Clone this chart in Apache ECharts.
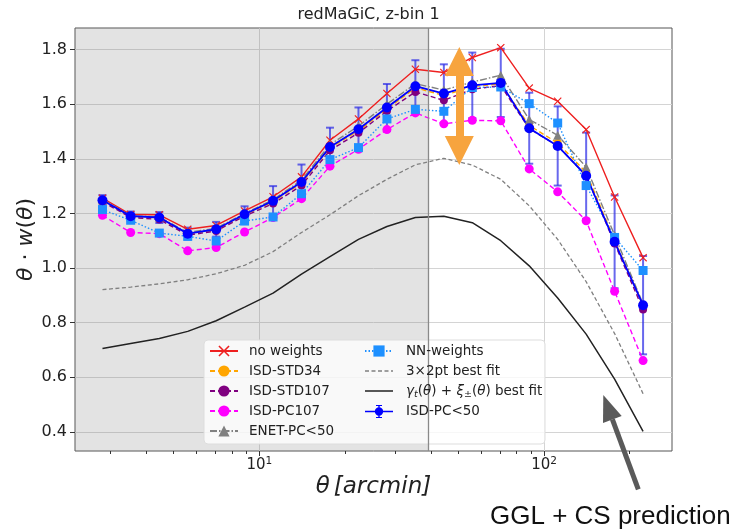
<!DOCTYPE html>
<html><head><meta charset="utf-8">
<script src="https://cdn.jsdelivr.net/npm/echarts@6/dist/echarts.min.js"></script>
<style>html,body{margin:0;padding:0;background:#fff}#c{width:737px;height:532px}</style>
</head><body><div id="c"></div>
<script>
// ---- data ----
const theta = [2.81, 3.53, 4.45, 5.60, 7.05, 8.87, 11.17, 14.06, 17.70, 22.29, 28.06, 35.32, 44.47, 55.98, 70.47, 88.72, 111.69, 140.61, 177.01, 222.84];
const noWeights = [1.256, 1.196, 1.195, 1.142, 1.156, 1.209, 1.261, 1.334, 1.468, 1.546, 1.639, 1.728, 1.716, 1.771, 1.807, 1.659, 1.611, 1.507, 1.260, 1.038];
const isdStd34  = [1.247, 1.188, 1.182, 1.124, 1.140, 1.194, 1.243, 1.311, 1.440, 1.503, 1.582, 1.660, 1.632, 1.664, 1.675, 1.522, 1.458, 1.350, 1.102, 0.862];
const isdStd107 = [1.243, 1.185, 1.178, 1.120, 1.136, 1.190, 1.236, 1.302, 1.431, 1.495, 1.575, 1.645, 1.614, 1.655, 1.668, 1.510, 1.448, 1.338, 1.090, 0.848];
const isdPc107  = [1.193, 1.130, 1.126, 1.063, 1.075, 1.132, 1.185, 1.254, 1.373, 1.435, 1.507, 1.568, 1.528, 1.541, 1.539, 1.363, 1.279, 1.173, 0.915, 0.661];
const enetPc50  = [1.250, 1.192, 1.187, 1.130, 1.146, 1.200, 1.250, 1.322, 1.452, 1.520, 1.600, 1.675, 1.652, 1.681, 1.706, 1.544, 1.486, 1.370, 1.120, 0.868];
const nnWeights = [1.214, 1.175, 1.128, 1.116, 1.099, 1.172, 1.187, 1.272, 1.397, 1.441, 1.546, 1.581, 1.574, 1.661, 1.663, 1.602, 1.531, 1.302, 1.112, 0.991];
const fit3x2pt  = [0.921, 0.930, 0.942, 0.957, 0.979, 1.010, 1.060, 1.130, 1.195, 1.265, 1.325, 1.378, 1.402, 1.377, 1.325, 1.228, 1.105, 0.950, 0.760, 0.540];
const fitGglCs  = [0.705, 0.724, 0.742, 0.768, 0.807, 0.857, 0.908, 0.978, 1.042, 1.105, 1.152, 1.185, 1.190, 1.166, 1.100, 1.008, 0.890, 0.758, 0.593, 0.402];
const isdPc50   = [1.248, 1.190, 1.185, 1.126, 1.142, 1.197, 1.246, 1.315, 1.443, 1.508, 1.588, 1.666, 1.639, 1.669, 1.678, 1.512, 1.447, 1.338, 1.096, 0.864];
const isdPc50Err= [0.019, 0.017, 0.020, 0.022, 0.027, 0.029, 0.054, 0.064, 0.071, 0.080, 0.086, 0.095, 0.107, 0.120, 0.125, 0.130, 0.145, 0.158, 0.170, 0.180];
const yTicks = [0.4, 0.6, 0.8, 1.0, 1.2, 1.4, 1.6, 1.8];
const xTicks = [10, 100];
const xMinorTicks = [3, 4, 5, 6, 7, 8, 9, 20, 30, 40, 50, 60, 70, 80, 90, 200];
const shadeEdge = 39.2;
// annotation (orange double arrow) in data coordinates
const arrowTheta = 50.4, arrowLow = 1.430, arrowHigh = 1.756;

// ---- chart ----
const xMin = 2.25, xMax = 281.6, yMin = 0.33, yMax = 1.879;
const FONT = "'DejaVu Sans', sans-serif";
const GAMMA = 'γt(θ) + ξ±(θ) best fit';
const pairs = arr => theta.map((t, i) => [t, arr[i]]);
const xPath = 'path://M0,1 L1,0 L5,4 L9,0 L10,1 L6,5 L10,9 L9,10 L5,6 L1,10 L0,9 L4,5 Z';
const BOX = 'M0,0 L0.01,0 L0,0.01 Z M28,14 L27.99,14 L28,13.99 Z ';
const ebIcon = 'path://M0,6.3 L28,6.3 L28,7.7 L0,7.7 Z M13.3,0.5 L14.7,0.5 L14.7,13.5 L13.3,13.5 Z M11,0.5 L17,0.5 L17,1.6 L11,1.6 Z M11,12.4 L17,12.4 L17,13.5 L11,13.5 Z M9.8,7 A4.2,4.2 0 1,1 18.2,7 A4.2,4.2 0 1,1 9.8,7 Z';
const solidIcon = 'path://' + BOX + 'M0,6.25 L28,6.25 L28,7.75 L0,7.75 Z';
const dashIcon = 'path://' + BOX + 'M0,6.35 L4,6.35 L4,7.65 L0,7.65 Z M6.5,6.35 L10.5,6.35 L10.5,7.65 L6.5,7.65 Z M13,6.35 L17,6.35 L17,7.65 L13,7.65 Z M19.5,6.35 L23.5,6.35 L23.5,7.65 L19.5,7.65 Z M26,6.35 L28,6.35 L28,7.65 L26,7.65 Z';

function line(name, arr, color, type, symbol, size, width, extra) {
  return Object.assign({
    name, type: 'line', data: pairs(arr), symbol, symbolSize: size,
    showAllSymbol: true, silent: true, animation: false,
    lineStyle: { color, width, type },
    itemStyle: { color },
    emphasis: { disabled: true }
  }, extra || {});
}

const series = [
  line('no weights', noWeights, '#ee2020', 'solid', xPath, 8, 1.4, {
    markLine: {
      silent: true, symbol: ['triangle', 'triangle'], symbolSize: 29,
      label: { show: false },
      lineStyle: { color: '#f7a43e', width: 8, type: 'solid' },
      itemStyle: { color: '#f7a43e' },
      data: [[{ coord: [arrowTheta, arrowLow] }, { coord: [arrowTheta, arrowHigh] }]]
    }
  }),
  line('ISD-STD34', isdStd34, '#ffa500', [5, 3], 'circle', 8, 1.4),
  line('ISD-STD107', isdStd107, '#800080', [5, 3], 'circle', 8, 1.4),
  line('ISD-PC107', isdPc107, '#ff00ff', [5, 3], 'circle', 9, 1.4),
  line('ENET-PC<50', enetPc50, '#808080', [7, 2, 1.5, 2], 'triangle', 9, 1.4),
  line('NN-weights', nnWeights, '#1e90ff', [1.5, 2], 'rect', 9, 1.4),
  line('3×2pt best fit', fit3x2pt, '#808080', [4, 2.5], 'none', 0, 1.3, {
    markArea: {
      silent: true,
      itemStyle: { color: 'rgba(128,128,128,0.22)' },
      data: [[{ xAxis: xMin }, { xAxis: shadeEdge }]]
    },
    markLine: {
      silent: true, symbol: 'none', label: { show: false },
      lineStyle: { color: '#8a8a8a', width: 1.3, type: 'solid' },
      data: [{ xAxis: shadeEdge }]
    }
  }),
  line(GAMMA, fitGglCs, '#222222', 'solid', 'none', 0, 1.5),
  {
    name: 'ISD-PC<50 errors', type: 'custom', silent: true, animation: false,
    data: theta.map((t, i) => [t, isdPc50[i] - isdPc50Err[i], isdPc50[i] + isdPc50Err[i]]),
    encode: { x: 0, y: [1, 2] },
    renderItem: (params, api) => {
      const lo = api.coord([api.value(0), api.value(1)]);
      const hi = api.coord([api.value(0), api.value(2)]);
      const st = { stroke: 'rgba(40,40,230,0.7)', lineWidth: 2 };
      return { type: 'group', children: [
        { type: 'line', shape: { x1: lo[0], y1: lo[1], x2: hi[0], y2: hi[1] }, style: st },
        { type: 'line', shape: { x1: lo[0] - 4, y1: lo[1], x2: lo[0] + 4, y2: lo[1] }, style: st },
        { type: 'line', shape: { x1: hi[0] - 4, y1: hi[1], x2: hi[0] + 4, y2: hi[1] }, style: st }
      ]};
    }
  },
  line('ISD-PC<50', isdPc50, '#0000ff', 'solid', 'circle', 10, 1.8)
];

const legendCommon = {
  orient: 'vertical', itemWidth: 28, itemHeight: 14, itemGap: 4, padding: 0,
  selectedMode: false, z: 6,
  textStyle: {
    fontFamily: FONT, fontSize: 13.5, color: '#222', lineHeight: 16, padding: [0, 0, 0, 6],
    rich: {
      i: { fontFamily: FONT, fontStyle: 'italic', fontSize: 13.5, color: '#222' },
      n: { fontFamily: FONT, fontSize: 13.5, color: '#222' },
      s: { fontFamily: FONT, fontStyle: 'italic', fontSize: 9.5, color: '#222', padding: [7, 0, 0, 0] }
    }
  },
  formatter: name => name === GAMMA
    ? '{i|γ}{s|t}{n|(}{i|θ}{n|) + }{i|ξ}{s|±}{n|(}{i|θ}{n|) best fit}'
    : name
};

const option = {
  animation: false,
  textStyle: { fontFamily: FONT },
  title: {
    text: 'redMaGiC, z-bin 1', left: 'center', top: 7, padding: 0,
    textStyle: { fontFamily: FONT, fontSize: 16, fontWeight: 'normal', color: '#222' }
  },
  grid: { left: 75, right: 65, top: 28, bottom: 81, show: true, borderColor: '#555', borderWidth: 1, backgroundColor: 'transparent' },
  legend: [
    Object.assign({}, legendCommon, { left: 209, top: 343,
      data: ['no weights', 'ISD-STD34', 'ISD-STD107', 'ISD-PC107', 'ENET-PC<50'] }),
    Object.assign({}, legendCommon, { left: 364, top: 343, textStyle: Object.assign({}, legendCommon.textStyle, { padding: [0, 0, 0, 8] }),
      data: ['NN-weights', { name: '3×2pt best fit', icon: dashIcon }, { name: GAMMA, icon: solidIcon }, { name: 'ISD-PC<50', icon: ebIcon }] })
  ],
  xAxis: [{
    type: 'log', logBase: 10, min: xMin, max: xMax,
    axisLine: { show: false },
    axisTick: { show: true, customValues: xTicks, length: 5, lineStyle: { color: '#333' } },
    axisLabel: {
      customValues: xTicks, margin: 5, color: '#222', fontFamily: FONT,
      formatter: v => '{b|10}{p|' + Math.round(Math.log10(v)) + '}',
      rich: {
        b: { fontFamily: FONT, fontSize: 15, color: '#222' },
        p: { fontFamily: FONT, fontSize: 10.5, color: '#222', padding: [0, 0, 8, 0] }
      }
    },
    splitLine: { show: true, lineStyle: { color: '#d4d4d4', width: 1 } },
    name: '{i|θ} {i|[arcmin]}', nameLocation: 'middle', nameGap: 25, nameMoveOverlap: false,
    nameTextStyle: { rich: { i: { fontFamily: FONT, fontStyle: 'italic', fontSize: 23, color: '#222' } } }
  }, {
    type: 'log', logBase: 10, min: xMin, max: xMax, gridIndex: 0, position: 'bottom',
    axisLine: { show: false },
    axisTick: { show: true, customValues: xMinorTicks, length: 3, lineStyle: { color: '#333' } },
    axisLabel: { show: false }, splitLine: { show: false }
  }],
  yAxis: {
    type: 'value', min: yMin, max: yMax, splitNumber: 8,
    axisLine: { show: false },
    axisTick: { show: true, customValues: yTicks, length: 5, lineStyle: { color: '#333' } },
    axisLabel: { customValues: yTicks, margin: 8, fontSize: 16, color: '#222', fontFamily: FONT,
      formatter: v => v.toFixed(1) },
    splitLine: { show: true, lineStyle: { color: '#d4d4d4', width: 1 } },
    name: '{i|θ}{n| · }{i|w}{n|(}{i|θ}{n|)}', nameLocation: 'middle', nameRotate: 90, nameGap: 38, nameMoveOverlap: false,
    nameTextStyle: { rich: {
      i: { fontFamily: FONT, fontStyle: 'italic', fontSize: 22, color: '#222' },
      n: { fontFamily: FONT, fontSize: 22, color: '#222' } } }
  },
  graphic: [
    { type: 'rect', z: 5, shape: { x: 204, y: 340, width: 341, height: 104, r: 4 },
      style: { fill: 'rgba(255,255,255,0.8)', stroke: '#dddddd', lineWidth: 1 } },
    { type: 'line', z: 10, shape: { x1: 638.3, y1: 489.3, x2: 612.4, y2: 419.4 },
      style: { stroke: '#5a5a5a', lineWidth: 5 } },
    { type: 'polygon', z: 10, shape: { points: [[603.3, 395], [621.7, 415.9], [603.0, 422.9]] },
      style: { fill: '#5a5a5a' } },
    { type: 'text', z: 10, left: 490, top: 504,
      style: { text: 'GGL + CS prediction', font: "26px 'Liberation Sans', Arial, sans-serif", fill: '#111' } }
  ],
  series
};

const chart = echarts.init(document.getElementById('c'), null, { renderer: 'canvas' });
chart.setOption(option);
</script></body></html>
